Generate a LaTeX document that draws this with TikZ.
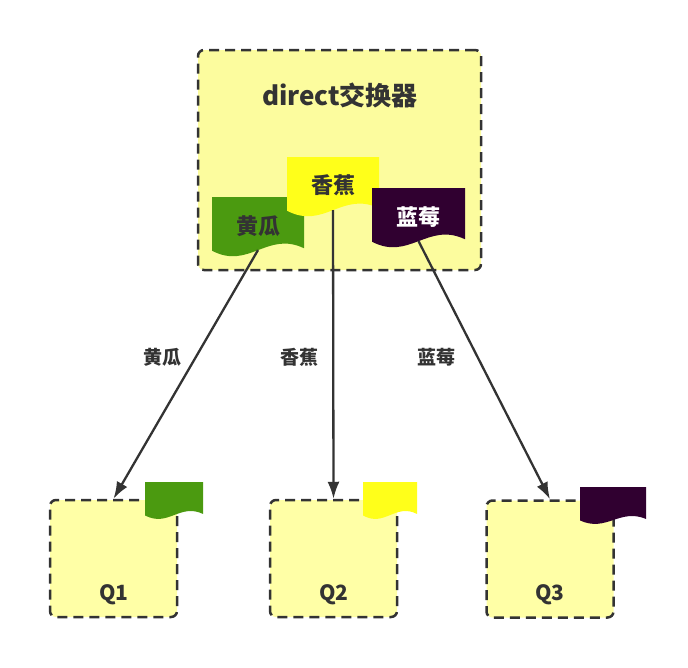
\documentclass[tikz,border=0pt]{standalone}
\usepackage{fontspec}
\setmainfont{Noto Sans CJK SC}
\usetikzlibrary{arrows.meta}

\definecolor{boxfill}{HTML}{FCFC9E}
\definecolor{qfill}{HTML}{FFFFA6}
\definecolor{linegray}{HTML}{333333}
\definecolor{cucumber}{HTML}{4B9A10}
\definecolor{banana}{HTML}{FFFF1A}
\definecolor{berry}{HTML}{300030}

\tikzset{
  dashbox/.style={draw=linegray, fill=#1, line width=2.5pt, dash pattern=on 10pt off 6pt, rounded corners=6pt},
  qbox/.style={dashbox=qfill, minimum width=127pt, minimum height=117pt},
  route/.style={draw=linegray, line width=2.3pt, -{Latex[length=17pt,width=12pt]}},
  routelabel/.style={font=\bfseries\fontsize{19}{19}\selectfont, text=linegray},
  qlabel/.style={font=\bfseries\fontsize{21}{21}\selectfont, text=linegray},
}

% wavy tag: #1 name, #2 x, #3 y, #4 width, #5 height, #6 colour, #7 text, #8 text colour
\newcommand{\wavetag}[8]{%
  \begin{scope}[shift={(#2,#3)}, xscale=#4, yscale=#5]
    \fill[#6] (0,0) -- (1,0) -- (1,0.84) .. controls (0.6,0.55) and (0.4,1.2) .. (0,0.88) -- cycle;
    \node[font=\bfseries\fontsize{22}{22}\selectfont, text=#8] (#1) at (0.5,0.47) {#7};
    \coordinate (#1 end) at (0.5,0.87);
  \end{scope}}

\begin{document}
\begin{tikzpicture}[x=1pt, y=-1pt]
\useasboundingbox (0,0) rectangle (688,667);

% Exchange
\node[dashbox=boxfill, minimum width=283pt, minimum height=220pt] (exchange) at (339.5,160) {};
\node[font=\bfseries\fontsize{26}{26}\selectfont, text=linegray] (title) at (340,95) {direct交换器};

% Routing keys
\wavetag{tag1}{212}{197}{92}{61}{cucumber}{黄瓜}{linegray}
\wavetag{tag2}{287}{157}{92}{61}{banana}{香蕉}{linegray}
\wavetag{tag3}{372}{188}{93}{61}{berry}{蓝莓}{white}

% Queues
\node[qbox] (q1) at (113.5,558.5) {};
\node[qbox] (q2) at (333.5,558.5) {};
\node[qbox] (q3) at (550,559) {};
\node[qlabel] (q1text) at (114,595) {Q1};
\node[qlabel] (q2text) at (334,595) {Q2};
\node[qlabel] (q3text) at (550,595) {Q3};

% Queue tags
\wavetag{qtag1}{145}{482}{58}{38}{cucumber}{}{linegray}
\wavetag{qtag2}{363}{482}{54}{38}{banana}{}{linegray}
\wavetag{qtag3}{580}{487}{66}{38}{berry}{}{white}

% Bindings
\draw[route] (tag1 end) -- (q1.north);
\draw[route] (tag2 end) -- (q2.north);
\draw[route] (tag3 end) -- (q3.north);

\node[routelabel] (key1) at (162,357) {黄瓜};
\node[routelabel] (key2) at (299,357) {香蕉};
\node[routelabel] (key3) at (436,357) {蓝莓};

\end{tikzpicture}
\end{document}
